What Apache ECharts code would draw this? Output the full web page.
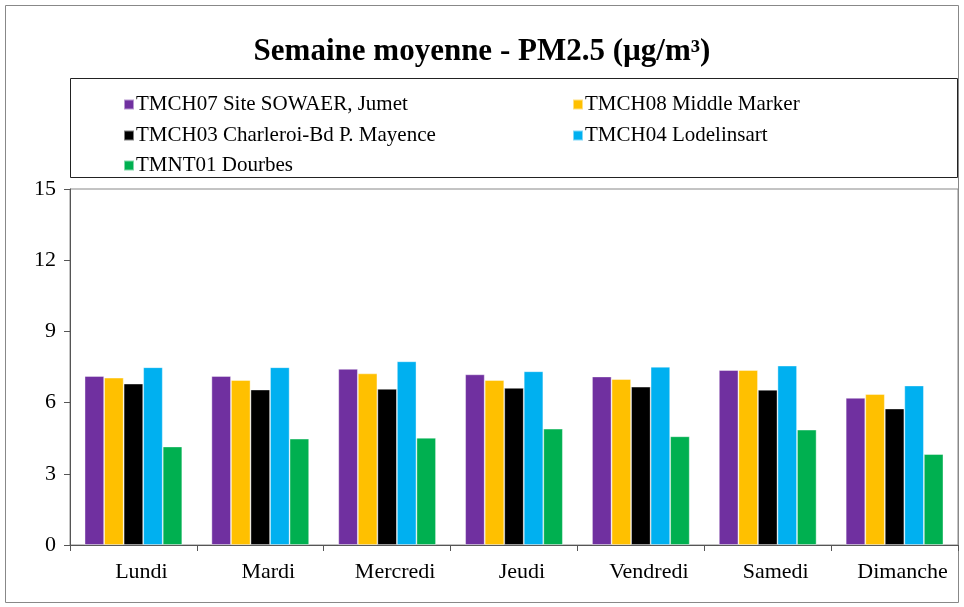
<!DOCTYPE html>
<html>
<head>
<meta charset="utf-8">
<script src="https://cdn.jsdelivr.net/npm/echarts@6/dist/echarts.min.js"></script>
<style>
  html, body { margin: 0; padding: 0; background: #fff; }
  #chart { width: 964px; height: 607px; }
</style>
</head>
<body>
<div id="chart"></div>
<script>
const days = ['Lundi', 'Mardi', 'Mercredi', 'Jeudi', 'Vendredi', 'Samedi', 'Dimanche']
const yTicks = [0, 3, 6, 9, 12, 15]

const stations = [
  'TMCH07 Site SOWAER, Jumet',
  'TMCH08 Middle Marker',
  'TMCH03 Charleroi-Bd P. Mayence',
  'TMCH04 Lodelinsart',
  'TMNT01 Dourbes'
]
const colors = ['#7030A0', '#FFC000', '#000000', '#00B0F0', '#00B050']

const tmch07 = [7.12, 7.12, 7.42, 7.19, 7.10, 7.37, 6.20]
const tmch08 = [7.05, 6.95, 7.23, 6.95, 6.99, 7.37, 6.36]
const tmch03 = [6.80, 6.55, 6.58, 6.62, 6.67, 6.54, 5.75]
const tmch04 = [7.49, 7.49, 7.74, 7.32, 7.51, 7.56, 6.72]
const tmnt01 = [4.15, 4.48, 4.52, 4.90, 4.58, 4.86, 3.83]
const values = [tmch07, tmch08, tmch03, tmch04, tmnt01]

const font = '"Liberation Serif", "Times New Roman", serif'

// legend sits in a boxed area, two columns
const legendPos = [
  { left: 118, top: 89 },
  { left: 567, top: 89 },
  { left: 118, top: 120 },
  { left: 567, top: 120 },
  { left: 118, top: 150 }
]

const chart = echarts.init(document.getElementById('chart'))

chart.setOption({
  animation: false,
  color: colors,
  title: {
    text: 'Semaine moyenne - PM2.5 (µg/m³)',
    left: 'center',
    top: 31,
    textStyle: { fontFamily: font, fontSize: 31, fontWeight: 'bold', color: '#000' }
  },
  graphic: [
    {
      type: 'rect',
      shape: { x: 5.5, y: 5.5, width: 953, height: 597 },
      style: { fill: 'none', stroke: '#888', lineWidth: 1 },
      silent: true
    },
    {
      type: 'rect',
      shape: { x: 70.5, y: 78.5, width: 887, height: 99 },
      style: { fill: 'none', stroke: '#222', lineWidth: 1 },
      silent: true
    }
  ],
  legend: stations.map((name, i) => ({
    data: [name],
    left: legendPos[i].left,
    top: legendPos[i].top,
    itemWidth: 10,
    itemHeight: 10,
    itemGap: 4,
    icon: 'rect',
    textStyle: { fontFamily: font, fontSize: 21, color: '#000', padding: [0, 0, 0, -3] }
  })),
  grid: {
    left: 70,
    right: 6,
    top: 189,
    bottom: 62,
    show: true,
    borderColor: '#888',
    borderWidth: 1
  },
  xAxis: {
    type: 'category',
    data: days,
    axisLine: { lineStyle: { color: '#555', width: 1 } },
    axisTick: { show: true, length: 6, lineStyle: { color: '#555' } },
    axisLabel: { fontFamily: font, fontSize: 22, color: '#000', margin: 16, padding: [0, 0, 0, 16] },
    splitLine: { show: false }
  },
  yAxis: {
    type: 'value',
    min: 0,
    max: 15,
    interval: 3,
    axisLine: { show: true, lineStyle: { color: '#555', width: 1 } },
    axisTick: { show: true, length: 6, lineStyle: { color: '#555' } },
    axisLabel: {
      fontFamily: font, fontSize: 22, color: '#000', margin: 14,
      formatter: v => yTicks.includes(v) ? String(v) : ''
    },
    splitLine: { show: false }
  },
  series: stations.map((name, i) => ({
    name,
    type: 'bar',
    data: values[i],
    barGap: '0%',
    barCategoryGap: '23%',
    itemStyle: { color: colors[i], borderColor: 'rgba(255,255,255,0.5)', borderWidth: 0.8 }
  }))
})
</script>
</body>
</html>
